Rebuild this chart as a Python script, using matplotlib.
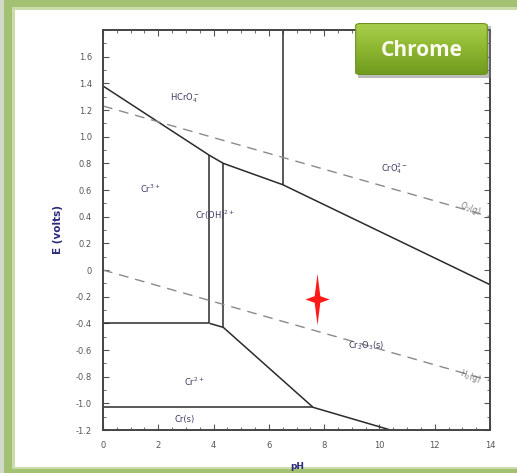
import numpy as np
import matplotlib
matplotlib.use("Agg")
import matplotlib.pyplot as plt
import matplotlib.patches as mpatches
from matplotlib.path import Path
from matplotlib.ticker import MultipleLocator
from matplotlib.colors import LinearSegmentedColormap

# Pourbaix diagram of chromium (pH vs E)
# solid boundaries: (pH list, E list)
upper_ph = [0, 3.85, 4.35, 6.5, 14]
upper_E = [1.38, 0.86, 0.80, 0.64, -0.11]
cr6_ph = [6.5, 6.5]
cr6_E = [0.64, 1.8]
cr3a_ph = [3.85, 3.85]
cr3a_E = [0.86, -0.40]
cr3b_ph = [4.35, 4.35]
cr3b_E = [0.80, -0.43]
cr2top_ph = [0, 3.85]
cr2top_E = [-0.40, -0.40]
lower_ph = [3.85, 4.35, 7.6, 10.4]
lower_E = [-0.40, -0.43, -1.03, -1.2]
crs_ph = [0, 7.6]
crs_E = [-1.03, -1.03]

# water stability lines (dashed)
o2_ph = [0, 14]
o2_E = [1.23, 0.40]
h2_ph = [0, 14]
h2_E = [0.0, -0.83]

# species labels
species = ["HCrO$_4^-$", "Cr$^{3+}$", "Cr(OH)$^{2+}$", "CrO$_4^{2-}$",
           "Cr$_2$O$_3$(s)", "Cr$^{2+}$", "Cr(s)"]
species_ph = [2.95, 1.7, 4.05, 10.55, 9.5, 3.3, 2.95]
species_E = [1.29, 0.61, 0.41, 0.76, -0.57, -0.84, -1.12]

gas_labels = ["O$_2$(g)", "H$_2$(g)"]
gas_ph = [13.3, 13.3]
gas_E = [0.46, -0.80]

# red star: working point
point_ph = [7.75]
point_E = [-0.215]

xticks = [0, 2, 4, 6, 8, 10, 12, 14]
yticks = [-1.2, -1.0, -0.8, -0.6, -0.4, -0.2, 0, 0.2, 0.4, 0.6, 0.8, 1.0, 1.2, 1.4, 1.6]
ytick_labels = ["-1.2", "-1.0", "-0.8", "-0.6", "-0.4", "-0.2", "0", "0.2", "0.4",
                "0.6", "0.8", "1.0", "1.2", "1.4", "1.6"]

W, H = 517, 473
fig = plt.figure(figsize=(W / 100, H / 100), dpi=100)
fig.patch.set_facecolor("#a3c172")

def fx(px):
    return px / W

def fy(py):
    return 1 - py / H

# slide frame
fig.patches.append(mpatches.Rectangle((0, fy(473)), fx(4), 1, transform=fig.transFigure,
                                      facecolor="#d3d9c8", edgecolor="none", zorder=-3))
fig.patches.append(mpatches.Rectangle((fx(12), fy(469)), 1, fy(7) - fy(469),
                                      transform=fig.transFigure, facecolor="#c9dcaa",
                                      edgecolor="none", zorder=-2))
fig.patches.append(mpatches.Rectangle((fx(15), fy(467)), 1, fy(10) - fy(467),
                                      transform=fig.transFigure, facecolor="white",
                                      edgecolor="none", zorder=-1))

ax = fig.add_axes([fx(103), fy(430), fx(490) - fx(103), fy(30) - fy(430)])
ax.set_xlim(0, 14)
ax.set_ylim(-1.2, 1.8)

lc = "#2b2b2b"
for xs, ys in [(upper_ph, upper_E), (cr6_ph, cr6_E), (cr3a_ph, cr3a_E), (cr3b_ph, cr3b_E),
               (cr2top_ph, cr2top_E), (lower_ph, lower_E), (crs_ph, crs_E)]:
    ax.plot(xs, ys, color=lc, lw=1.1, solid_capstyle="butt")

ax.plot(o2_ph, o2_E, color="#8a8a8a", lw=1.0, dashes=(7, 5))
ax.plot(h2_ph, h2_E, color="#8a8a8a", lw=1.0, dashes=(7, 5))

for s, x, y in zip(species, species_ph, species_E):
    ax.text(x, y, s, fontsize=6, color="#3c3c66", ha="center", va="center")
for s, x, y in zip(gas_labels, gas_ph, gas_E):
    ax.text(x, y, s, fontsize=5.5, color="#777777", ha="center", va="center", rotation=-20)

# four pointed star marker, taller than wide
star = Path([(0, 1), (0.11, 0.13), (0.47, 0), (0.11, -0.13), (0, -1), (-0.11, -0.13),
             (-0.47, 0), (-0.11, 0.13), (0, 1)],
            [Path.MOVETO] + [Path.LINETO] * 7 + [Path.CLOSEPOLY])
ax.plot(point_ph, point_E, marker=star, markersize=37, color="#ff1a1a", ls="none",
        markeredgewidth=0)

ax.set_xticks(xticks)
ax.set_yticks(yticks)
ax.set_yticklabels(ytick_labels)
ax.xaxis.set_minor_locator(MultipleLocator(0.5))
ax.yaxis.set_minor_locator(MultipleLocator(0.1))
ax.tick_params(which="both", direction="in", top=True, right=True, colors="#555555",
               labelsize=6, labelcolor="#555555")
ax.tick_params(which="major", length=4, width=0.8, pad=8)
ax.tick_params(which="minor", length=2, width=0.6)
for sp in ax.spines.values():
    sp.set_color("#444444")
    sp.set_linewidth(1.4)

ax.set_ylabel("E (volts)", fontsize=7.5, color="#2a2a7a", fontweight="bold", labelpad=9)
fig.text(fx(297), fy(466), "pH", fontsize=6.5, color="#2a2a7a", fontweight="bold",
         ha="center", va="center")

# "Chrome" button
bx0, by0, bx1, by1 = 355, 23, 488, 75
fig.patches.append(mpatches.Rectangle((fx(bx0 + 3), fy(by1 + 3)), fx(bx1 - bx0), fy(by0) - fy(by1),
                                      transform=fig.transFigure, facecolor="#7a7a7a",
                                      alpha=0.5, edgecolor="none", zorder=2))
bax = fig.add_axes([fx(bx0), fy(by1), fx(bx1 - bx0), fy(by0) - fy(by1)], zorder=3)
bax.axis("off")
cmap = LinearSegmentedColormap.from_list("btn", ["#6f9a1e", "#8cb630", "#a9cf4c"])
grad = np.linspace(0, 1, 100)[:, None]
im = bax.imshow(grad, aspect="auto", cmap=cmap, extent=[0, 1, 0, 1], origin="lower")
box = mpatches.FancyBboxPatch((0.005, 0.01), 0.99, 0.98,
                              boxstyle="round,pad=0,rounding_size=0.04",
                              transform=bax.transAxes, facecolor="none",
                              edgecolor="#6b9120", lw=0.8)
bax.add_patch(box)
im.set_clip_path(box)
bax.set_xlim(0, 1)
bax.set_ylim(0, 1)
bax.text(0.5, 0.48, "Chrome", fontsize=15, color="#fbfbf0", fontweight="bold",
         family=["Open Sans", "DejaVu Sans"], ha="center", va="center",
         transform=bax.transAxes)

fig.savefig("out.png", dpi=100)
